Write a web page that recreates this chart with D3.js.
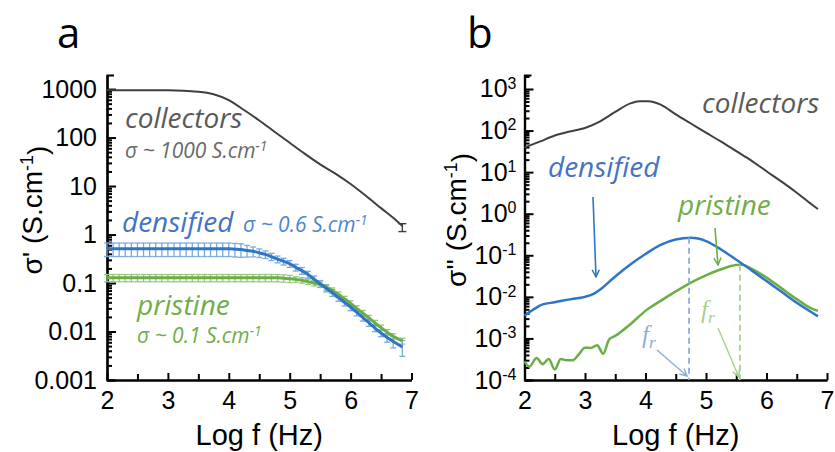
<!DOCTYPE html>
<html>
<head>
<meta charset="utf-8">
<script src="https://cdn.jsdelivr.net/npm/d3@7"></script>
<style>
body { margin: 0; background: #fff; }
svg { display: block; }
</style>
</head>
<body>
<script>
// ---- panel a : real part sigma' (S/cm) vs log f ----
var freqA = [2.0,2.1,2.2,2.3,2.4,2.5,2.6,2.7,2.8,2.9,3.0,3.1,3.2,3.3,3.4,3.5,3.6,3.7,3.8,3.9,
             4.0,4.1,4.2,4.3,4.4,4.5,4.6,4.7,4.8,4.9,5.0,5.1,5.2,5.3,5.4,5.5,5.6,5.7,5.8,5.9,
             6.0,6.1,6.2,6.3,6.4,6.5,6.6,6.7,6.85]
var densifiedA = [0.51,0.51,0.51,0.51,0.51,0.51,0.51,0.51,0.51,0.51,0.51,0.51,0.51,0.51,0.51,0.51,0.51,0.51,0.51,0.51,
                  0.51,0.50,0.49,0.47,0.45,0.42,0.39,0.35,0.31,0.28,0.25,0.21,0.18,0.15,0.12,0.097,0.078,0.063,0.05,0.04,
                  0.032,0.025,0.0195,0.0152,0.0118,0.0093,0.0075,0.0062,0.0048]
var densifiedErr = [0.31,0.31,0.31,0.31,0.31,0.31,0.31,0.31,0.31,0.31,0.31,0.31,0.31,0.31,0.31,0.31,0.31,0.31,0.31,0.31,
                    0.31,0.31,0.31,0.27,0.23,0.2,0.18,0.17,0.16,0.16,0.16,0.16,0.16,0.16,0.16,0.16,0.16,0.16,0.16,0.16,
                    0.16,0.16,0.16,0.16,0.16,0.16,0.2,0.26,0.36]
var pristineA = [0.128,0.128,0.128,0.128,0.128,0.128,0.128,0.128,0.128,0.128,0.128,0.128,0.128,0.128,0.128,0.128,0.128,0.128,0.128,0.128,
                 0.128,0.128,0.128,0.128,0.128,0.128,0.128,0.128,0.128,0.126,0.123,0.119,0.114,0.107,0.10,0.093,0.082,0.07,0.058,0.047,
                 0.038,0.030,0.024,0.019,0.015,0.012,0.0097,0.008,0.0064]
var pristineErr = [0.17,0.17,0.17,0.17,0.17,0.17,0.17,0.17,0.17,0.17,0.17,0.17,0.17,0.17,0.17,0.17,0.17,0.17,0.17,0.17,
                   0.17,0.17,0.17,0.17,0.17,0.17,0.17,0.17,0.17,0.17,0.17,0.13,0.13,0.13,0.13,0.13,0.13,0.13,0.13,0.13,
                   0.13,0.13,0.13,0.13,0.13,0.13,0.13,0.13,0.14]
var collFreqA = [2.0,2.5,3.0,3.5,3.75,4.0,4.25,4.5,4.75,5.0,5.25,5.5,5.75,6.0,6.25,6.5,6.75,6.85]
var collectorsA = [950,950,945,880,780,590,370,225,132,78,46,28,18,11,6.3,3.5,1.95,1.5]
var collLastErr = 0.35

// ---- panel b : imaginary part sigma'' ----
var collFreqB = [2.0,2.25,2.5,2.75,3.0,3.25,3.5,3.75,3.9,4.05,4.25,4.5,4.75,5.0,5.25,5.5,5.75,6.0,6.25,6.5,6.75,6.85]
var collectorsB = [39,54,76,95,115,166,280,450,510,505,420,245,148,89,54,32,19,10.5,5.9,3.2,1.66,1.3]
var densFreqB = [2.0,2.15,2.3,2.5,2.75,3.0,3.15,3.25,3.5,3.75,4.0,4.25,4.5,4.75,5.0,5.25,5.5,5.75,6.0,6.25,6.5,6.75,6.85]
var densifiedB = [0.0035,0.005,0.0066,0.0074,0.0087,0.010,0.012,0.015,0.031,0.060,0.107,0.178,0.24,0.263,0.22,0.138,0.078,0.044,0.024,0.0132,0.0072,0.0042,0.0034]
var pristFreqB = [2.0,2.08,2.2,2.3,2.4,2.5,2.6,2.7,2.8,2.9,3.0,3.1,3.2,3.3,3.4,3.5,3.75,4.0,4.25,4.5,4.75,5.0,5.25,5.5,5.6,5.75,6.0,6.25,6.5,6.75,6.85]
var pristineB = [2.8e-4,2.1e-4,3.4e-4,2.4e-4,3.2e-4,1.8e-4,3.2e-4,3.0e-4,3.0e-4,4.2e-4,6.0e-4,5.9e-4,6.9e-4,4.3e-4,9.5e-4,1.15e-3,2.2e-3,4.6e-3,8e-3,0.0135,0.022,0.033,0.046,0.058,0.059,0.048,0.029,0.016,0.0088,0.0052,0.0046]
var frDensified = 4.72, frPristine = 5.56

var xTicks = [2,3,4,5,6,7]
var xMinor = [2.5,3.5,4.5,5.5,6.5]
var yTicksA = [0.001,0.01,0.1,1,10,100,1000]
var yTicksB = [1e-4,1e-3,1e-2,1e-1,1,10,100,1000]

var C = {
  gray: "#3f3f3f", grayTxt: "#595959",
  blue: "#2e75c6", blueErr: "#7aaae0", blueTxt: "#4472c4", blueLight: "#8fabdd",
  green: "#6aae45", greenErr: "#96c97a", greenTxt: "#70ad47", greenLight: "#a6d08c"
}
var sans = "'Liberation Sans', Arial, sans-serif"
var italicFont = "'Open Sans', sans-serif"

var svg = d3.select("body").append("svg").attr("width", 835).attr("height", 452)

var defs = svg.append("defs")
function arrowMarker(id, color) {
  defs.append("marker").attr("id", id)
    .attr("viewBox", "0 0 10 10").attr("refX", 9).attr("refY", 5)
    .attr("markerWidth", 9).attr("markerHeight", 9).attr("markerUnits", "userSpaceOnUse")
    .attr("orient", "auto")
    .append("path").attr("d", "M1,1 L9,5 L1,9").attr("fill", "none")
    .attr("stroke", color).attr("stroke-width", 1.6)
}
arrowMarker("arBlue", C.blue)
arrowMarker("arGreen", C.green)
arrowMarker("arBlueL", C.blueLight)
arrowMarker("arGreenL", C.greenLight)

function makeAxes(x, y, yMajor, supLabels, padY) {
  var g = svg.append("g")
  // minor log ticks
  var yMinor = []
  yMajor.forEach(function (m) { for (var k = 2; k <= 9; k++) if (m * k < y.domain()[1]) yMinor.push(m * k) })
  g.append("g").attr("transform", "translate(" + x.range()[0] + ",0)")
    .call(d3.axisLeft(y).tickValues(yMinor).tickFormat("").tickSizeInner(-5).tickSizeOuter(0))
  var ya = g.append("g").attr("transform", "translate(" + x.range()[0] + ",0)")
    .call(d3.axisLeft(y).tickValues(yMajor).tickSizeInner(-9).tickSizeOuter(-7).tickPadding(padY)
      .tickFormat(function (d) { return d >= 1 ? d3.format("d")(d) : d3.format("")(d) }))
  if (supLabels) {
    ya.selectAll(".tick text").each(function (d) {
      var t = d3.select(this).text("")
      var e = Math.round(Math.log10(d))
      t.append("tspan").text("10")
      t.append("tspan").attr("dy", "-0.55em").attr("font-size", 16).text(e)
    })
  }
  g.append("g").attr("transform", "translate(0," + y.range()[0] + ")")
    .call(d3.axisBottom(x).tickValues(xMinor).tickFormat("").tickSizeInner(-6).tickSizeOuter(0))
  g.append("g").attr("transform", "translate(0," + y.range()[0] + ")")
    .call(d3.axisBottom(x).tickValues(xTicks).tickFormat(d3.format("d")).tickSizeInner(-7).tickSizeOuter(0).tickPadding(11))
  g.selectAll(".domain").attr("stroke", "#000").attr("stroke-width", 2.2)
  g.selectAll(".tick line").attr("stroke", "#000").attr("stroke-width", 2)
  g.selectAll(".tick text").attr("font-family", sans).attr("font-size", 25).attr("fill", "#000")
  return g
}

function label(x, y, parts, size, color, family) {
  var t = svg.append("text").attr("x", x).attr("y", y)
    .attr("font-family", family || italicFont).attr("font-style", "italic")
    .attr("font-size", size).attr("fill", color)
  parts.forEach(function (p) {
    var s = t.append("tspan").text(p.t)
    if (p.sup) s.attr("dy", "-0.5em").attr("font-size", size * 0.65)
    if (p.sub) s.attr("dy", "0.3em").attr("font-size", size * 0.7)
  })
  return t
}

// ================= panel a =================
var xA = d3.scaleLinear().domain([2, 7]).range([107, 411.5])
var yA = d3.scaleLog().domain([0.001, 1950]).range([380, 75])
makeAxes(xA, yA, yTicksA, false, 10)

var lineA = d3.line().x(function (d) { return xA(d[0]) }).y(function (d) { return yA(d[1]) }).curve(d3.curveMonotoneX)

function errorBars(freq, vals, rel, color) {
  var g = svg.append("g").attr("stroke", color).attr("stroke-width", 1.3)
  var pts = freq.map(function (f, i) { return { x: xA(f), hi: yA(vals[i] * (1 + rel[i])), lo: yA(vals[i] * (1 - rel[i])) } })
  g.selectAll("line.v").data(pts).enter().append("line")
    .attr("x1", function (d) { return d.x }).attr("x2", function (d) { return d.x })
    .attr("y1", function (d) { return d.hi }).attr("y2", function (d) { return d.lo })
  ;["hi", "lo"].forEach(function (k) {
    g.selectAll("line." + k).data(pts).enter().append("line")
      .attr("x1", function (d) { return d.x - 3 }).attr("x2", function (d) { return d.x + 3 })
      .attr("y1", function (d) { return d[k] }).attr("y2", function (d) { return d[k] })
  })
}
errorBars(freqA, pristineA, pristineErr, C.greenErr)
errorBars(freqA, densifiedA, densifiedErr, C.blueErr)

svg.append("path").datum(freqA.map(function (f, i) { return [f, pristineA[i]] }))
  .attr("d", lineA).attr("fill", "none").attr("stroke", C.green).attr("stroke-width", 3)
svg.append("path").datum(freqA.map(function (f, i) { return [f, densifiedA[i]] }))
  .attr("d", lineA).attr("fill", "none").attr("stroke", C.blue).attr("stroke-width", 3)
svg.append("path").datum(collFreqA.map(function (f, i) { return [f, collectorsA[i]] }))
  .attr("d", lineA).attr("fill", "none").attr("stroke", C.gray).attr("stroke-width", 2)

// single error bar on the last collectors point
var lastF = collFreqA[collFreqA.length - 1], lastV = collectorsA[collectorsA.length - 1]
var eb = svg.append("g").attr("stroke", C.gray).attr("stroke-width", 1.4)
eb.append("line").attr("x1", xA(lastF)).attr("x2", xA(lastF))
  .attr("y1", yA(lastV + collLastErr * 0.5)).attr("y2", yA(lastV - collLastErr))
;[lastV + collLastErr * 0.5, lastV - collLastErr].forEach(function (v) {
  eb.append("line").attr("x1", xA(lastF) - 4).attr("x2", xA(lastF) + 4).attr("y1", yA(v)).attr("y2", yA(v))
})

label(125, 128, [{ t: "collectors" }], 28, C.grayTxt)
label(125, 158, [{ t: "σ ~ 1000 S.cm" }, { t: "-1", sup: true }], 21, "#6a6a6a")
label(122, 232, [{ t: "densified" }], 28, C.blueTxt)
label(243, 232, [{ t: "σ ~ 0.6 S.cm" }, { t: "-1", sup: true }], 21, "#4f84d2")
label(137, 315, [{ t: "pristine" }], 28, C.greenTxt)
label(137, 343, [{ t: "σ ~ 0.1 S.cm" }, { t: "-1", sup: true }], 21, C.greenTxt)

// ================= panel b =================
var xB = d3.scaleLinear().domain([2, 7]).range([524.5, 827])
var yB = d3.scaleLog().domain([1e-4, 2170]).range([380, 75])
makeAxes(xB, yB, yTicksB, true, 8)

var lineB = d3.line().x(function (d) { return xB(d[0]) }).y(function (d) { return yB(d[1]) }).curve(d3.curveMonotoneX)

svg.append("path").datum(collFreqB.map(function (f, i) { return [f, collectorsB[i]] }))
  .attr("d", lineB).attr("fill", "none").attr("stroke", C.gray).attr("stroke-width", 2)
svg.append("path").datum(pristFreqB.map(function (f, i) { return [f, pristineB[i]] }))
  .attr("d", lineB).attr("fill", "none").attr("stroke", C.green).attr("stroke-width", 2.5)
svg.append("path").datum(densFreqB.map(function (f, i) { return [f, densifiedB[i]] }))
  .attr("d", lineB).attr("fill", "none").attr("stroke", C.blue).attr("stroke-width", 2.5)

// resonance frequency markers
svg.append("line").attr("x1", xB(frDensified)).attr("x2", xB(frDensified))
  .attr("y1", yB(d3.max(densifiedB))).attr("y2", yB.range()[0])
  .attr("stroke", C.blueLight).attr("stroke-width", 1.8).attr("stroke-dasharray", "6,4")
svg.append("line").attr("x1", xB(frPristine)).attr("x2", xB(frPristine))
  .attr("y1", yB(d3.max(pristineB))).attr("y2", yB.range()[0])
  .attr("stroke", C.greenLight).attr("stroke-width", 1.8).attr("stroke-dasharray", "6,4")

function arrow(x1, y1, x2, y2, color, marker, w) {
  svg.append("line").attr("x1", x1).attr("y1", y1).attr("x2", x2).attr("y2", y2)
    .attr("stroke", color).attr("stroke-width", w).attr("marker-end", "url(#" + marker + ")")
}
arrow(593, 197, 596, 277, C.blue, "arBlue", 1.6)
arrow(715, 228, 718, 265, C.green, "arGreen", 1.6)
arrow(657, 350, xB(frDensified) - 2, 376, C.blueLight, "arBlueL", 1.4)
arrow(718, 328, xB(frPristine) - 1, 377, C.greenLight, "arGreenL", 1.4)

label(702, 113, [{ t: "collectors" }], 28, C.grayTxt)
label(548, 177, [{ t: "densified" }], 28, C.blueTxt)
label(678, 215, [{ t: "pristine" }], 28, C.greenTxt)
label(642, 343, [{ t: "f" }, { t: "r", sub: true }], 25, C.blueLight, "'Liberation Serif', serif")
label(701, 318, [{ t: "f" }, { t: "r", sub: true }], 25, C.greenLight, "'Liberation Serif', serif")

// ================= titles =================
function yTitle(x, y, prime) {
  var t = svg.append("text").attr("transform", "translate(" + x + "," + y + ") rotate(-90)")
    .attr("text-anchor", "middle").attr("font-family", sans).attr("font-size", 28).attr("fill", "#000")
  t.append("tspan").text("σ" + prime + " (S.cm")
  t.append("tspan").attr("dy", "-0.5em").attr("font-size", 18).text("-1")
  t.append("tspan").attr("dy", "0.5em").text(")")
}
yTitle(42, 210, "'")
yTitle(466, 220, "''")

;[[xA, "a", 57], [xB, "b", 467]].forEach(function (p) {
  svg.append("text").attr("x", (p[0].range()[0] + p[0].range()[1]) / 2).attr("y", 445)
    .attr("text-anchor", "middle").attr("font-family", sans).attr("font-size", 29).attr("fill", "#000")
    .text("Log f (Hz)")
  svg.append("text").attr("x", p[2]).attr("y", 48)
    .attr("font-family", "'Open Sans', sans-serif").attr("font-size", 42).attr("fill", "#000").text(p[1])
})
</script>
</body>
</html>
